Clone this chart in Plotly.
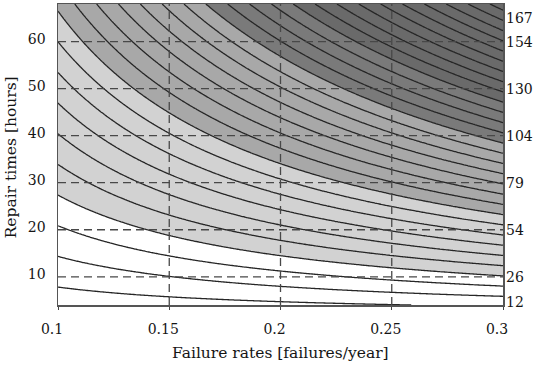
import numpy as np
import plotly.graph_objects as go

# ---- data ----------------------------------------------------------------
# evaluation grid of the chart's two inputs
failure_rates = np.linspace(0.1, 0.3, 241)      # failures/year
repair_times = np.linspace(4.0, 68.0, 321)      # hours
repair_offset_h = 1.6                           # hours not counted in outage
# contour levels (outage index)
first_level = 0.621
level_step = 0.652
n_levels = 30
# grey bands: first level index of each band
band_starts = [0, 4, 10, 17, 21]
band_colors = ["#ffffff", "#d2d2d2", "#a8a8a8", "#7a7a7a", "#6a6a6a"]
# reference grid
grid_rates = [0.15, 0.2, 0.25]
grid_times = [10, 20, 30, 40, 50, 60]
# axes
x_ticks = [0.1, 0.15, 0.2, 0.25, 0.3]
x_tick_labels = ["0.1", "0.15", "0.2", "0.25", "0.3"]
y_ticks = [10, 20, 30, 40, 50, 60]
right_tick_pos = [4.6, 10, 20, 30, 40, 50, 60, 65.0]
right_tick_labels = ["12", "26", "54", "79", "104", "130", "154", "167"]
x_title = "Failure rates [failures/year]"
y_title = "Repair times [hours]"

# ---- surface --------------------------------------------------------------
Z = np.outer(repair_times - repair_offset_h, failure_rates)

# discrete colorscale: band b (above level b) maps to b / n_levels
cs = []
for i, (b, col) in enumerate(zip(band_starts, band_colors)):
    lo = 0.0 if i == 0 else (b - 0.5) / n_levels
    hi = 1.0 if i == len(band_starts) - 1 else (band_starts[i + 1] - 0.5) / n_levels
    cs.append([lo, col])
    cs.append([hi, col])

FONT = "DejaVu Serif"
FS = 14
FS_TITLE = 15.5
TXT = "#151515"

fig = go.Figure()
fig.add_trace(go.Contour(
    x=failure_rates, y=repair_times, z=Z,
    autocontour=False,
    contours=dict(start=first_level,
                  end=first_level + (n_levels - 0.5) * level_step,
                  size=level_step, coloring="fill"),
    colorscale=cs, showscale=False,
    line=dict(color="#262626", width=1.3, smoothing=1),
    hoverinfo="skip",
))
# invisible trace to activate right axis
fig.add_trace(go.Scatter(x=[0.2], y=[30], yaxis="y2", mode="markers",
                         marker=dict(opacity=0), showlegend=False, hoverinfo="skip"))

dash_style = dict(color="#484848", width=1.3, dash="8px,5px")
for gx in grid_rates:
    fig.add_shape(type="line", xref="x", yref="y", x0=gx, x1=gx, y0=4, y1=68,
                  line=dash_style, layer="above")
for gy in grid_times:
    fig.add_shape(type="line", xref="x", yref="y", x0=0.1, x1=0.3, y0=gy, y1=gy,
                  line=dash_style, layer="above")

fig.add_annotation(text=x_title, xref="paper", yref="paper", x=0.5, y=-0.159,
                   xanchor="center", yanchor="middle", showarrow=False,
                   font=dict(family=FONT, size=FS_TITLE, color=TXT))
fig.add_annotation(text=y_title, xref="paper", yref="paper", x=-0.106, y=0.49,
                   xanchor="center", yanchor="middle", showarrow=False,
                   textangle=-90, font=dict(family=FONT, size=FS_TITLE, color=TXT))

fig.update_layout(
    width=536, height=367,
    margin=dict(l=58, r=33, t=4, b=62, autoexpand=False),
    paper_bgcolor="white", plot_bgcolor="white",
    font=dict(family=FONT, size=FS, color=TXT),
    showlegend=False,
    xaxis=dict(range=[0.1, 0.3], tickvals=x_ticks, ticktext=x_tick_labels,
               ticks="outside", ticklen=3, tickcolor="#444", automargin=False,
               showgrid=False, zeroline=False,
               showline=True, mirror=True, linecolor="#555", linewidth=1.5,
               ticklabelstandoff=8, ticklabelshift=-6,
               layer="above traces"),
    yaxis=dict(range=[4, 68], tickvals=y_ticks, ticks="", automargin=False,
               showgrid=False, zeroline=False,
               showline=True, mirror=True, linecolor="#555", linewidth=1.5,
               ticklabelstandoff=8, ticklabelshift=-3,
               layer="above traces"),
    yaxis2=dict(range=[4, 68], overlaying="y", side="right", automargin=False,
                tickvals=right_tick_pos, ticktext=right_tick_labels,
                ticks="", showgrid=False, zeroline=False, showline=False,
                ticklabelstandoff=2),
)

fig.write_html("out.html",
               config={"displayModeBar": False, "staticPlot": True},
               post_script="document.body.style.margin='0';"
                           "document.body.style.overflow='hidden';")
